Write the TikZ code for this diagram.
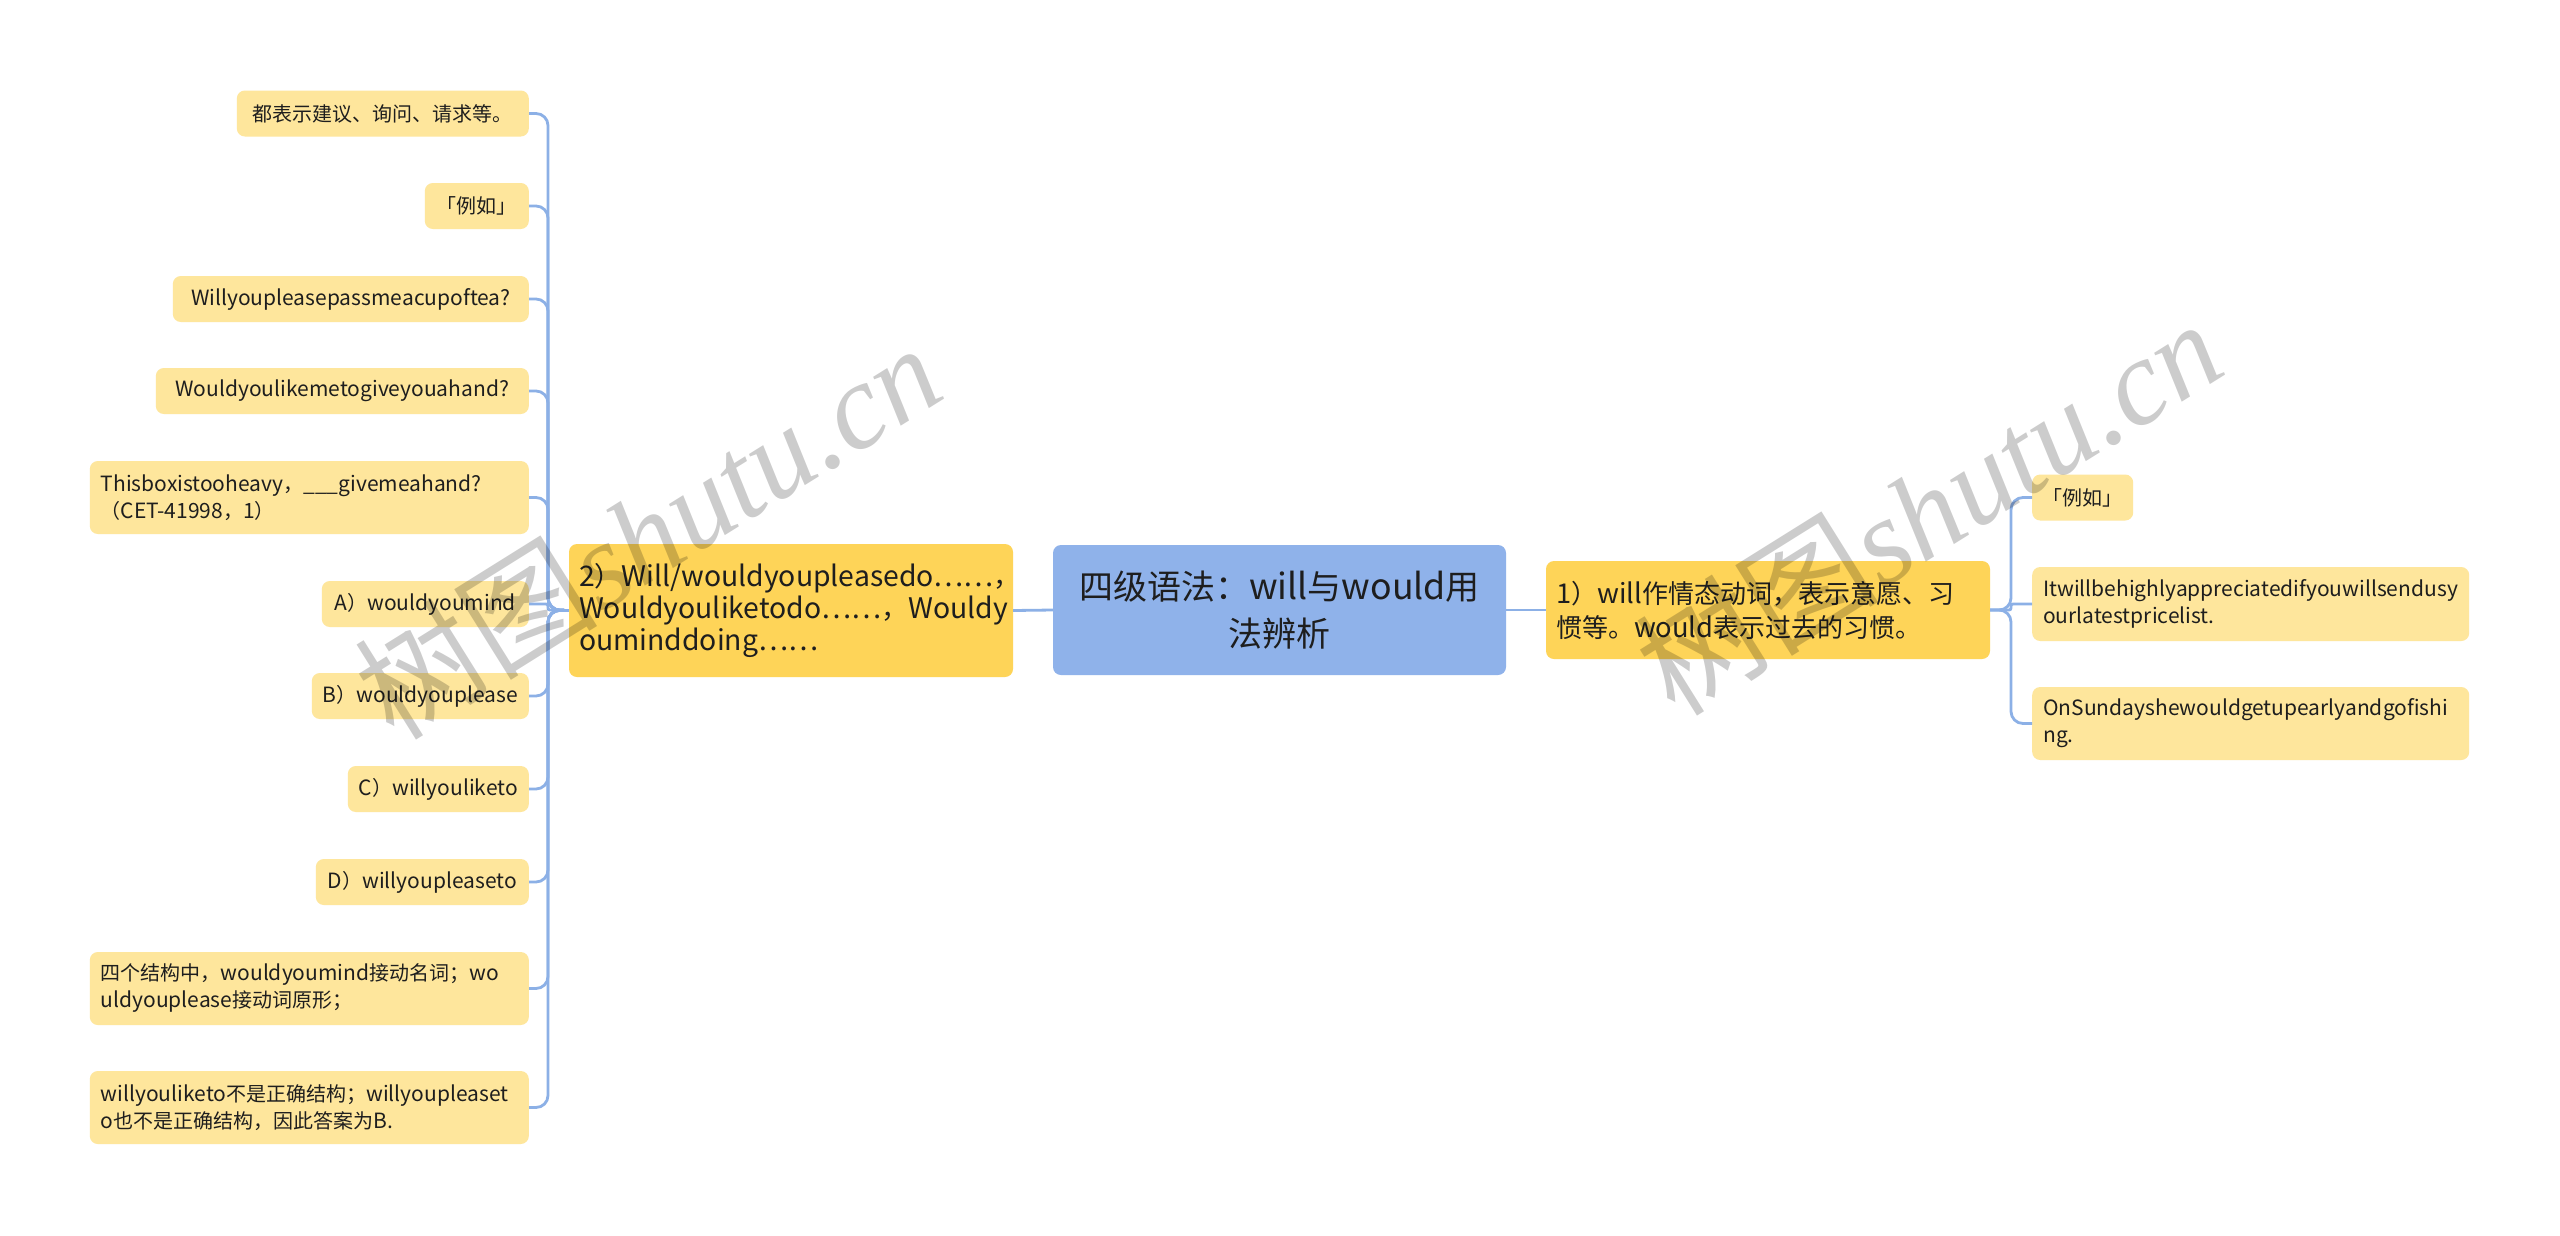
\documentclass[tikz,border=0pt]{standalone}
\usepackage{fontspec}
\setmainfont{Noto Sans CJK SC}[Scale=1.05]
\newfontfamily\cjkf{Noto Sans CJK SC}
\newfontfamily\latf{Noto Sans CJK SC}[Scale=1.05]
\newfontfamily\wmlat{Liberation Serif}
\newXeTeXintercharclass\mycjkclass
\makeatletter
\def\setcjkrange#1#2{\count@=#1\relax
  \loop\XeTeXcharclass\count@=\mycjkclass\relax
  \advance\count@ by 1\relax
  \ifnum\count@<#2\relax\repeat}
\setcjkrange{"3000}{"3040}
\setcjkrange{"4E00}{"A000}
\setcjkrange{"FF00}{"FFF0}
\makeatother
\XeTeXinterchartoks 0 \mycjkclass = {\cjkf}
\XeTeXinterchartoks 4095 \mycjkclass = {\cjkf}
\XeTeXinterchartoks \mycjkclass 0 = {\latf}
\XeTeXinterchartoks 4095 0 = {\latf}
\XeTeXinterchartokenstate=1
\hyphenpenalty=10000
\definecolor{rootc}{HTML}{8FB2EA}
\definecolor{mainc}{HTML}{FED458}
\definecolor{leafc}{HTML}{FEE69C}
\definecolor{linec}{HTML}{8CB0E6}
\definecolor{txt}{HTML}{1E1E1E}
\tikzset{
  leaf/.style={fill=leafc, rounded corners=8pt, inner sep=0pt, text=txt,
    font=\fontsize{20}{27}\selectfont, minimum height=46pt},
  mleaf/.style={leaf, align=left, inner xsep=11pt, minimum height=73pt},
  mainbox/.style={fill=mainc, rounded corners=8pt, inner xsep=10pt, inner ysep=0pt, text=txt,
    align=left},
  rootbox/.style={fill=rootc, rounded corners=8pt, inner sep=0pt, text=txt,
    font=\fontsize{34}{47}\selectfont, align=center, minimum width=453pt, minimum height=130pt},
  conn/.style={draw=linec, line width=2.8pt, rounded corners=12pt},
  nearconn/.style={draw=linec, line width=2.8pt, rounded corners=2pt},
  wmark/.style={text=black, opacity=0.2, rotate=32,
    font={\XeTeXinterchartokenstate=0 \fontsize{122}{122}\selectfont}}
}
\begin{document}
\begin{tikzpicture}[x=1pt, y=-1pt]
\fill[white] (0,0) rectangle (2560,1235);
\useasboundingbox (0,0) rectangle (2560,1235);
% central nodes
\node[rootbox] (root) at (1279.5,610) {四级语法：will与would用\\法辨析};
\node[mainbox, font=\fontsize{27}{32}\selectfont, text width=424pt, minimum height=133pt] (n2) at (791,610.5)
  {2）Will/wouldyoupleasedo……，\\Wouldyouliketodo……，Wouldy\\ouminddoing……};
\node[mainbox, font=\fontsize{26}{34}\selectfont, text width=424pt, minimum height=98pt] (n1) at (1768,610)
  {1）will作情态动词，表示意愿、习\\惯等。would表示过去的习惯。};
% left leaves
\node[leaf, anchor=east, minimum width=292pt] (L1) at (529,113.5) {都表示建议、询问、请求等。};
\node[leaf, anchor=east, minimum width=104pt] (L2) at (529,206) {「例如」};
\node[leaf, anchor=east, minimum width=356pt] (L3) at (529,299) {Willyoupleasepassmeacupoftea?};
\node[leaf, anchor=east, minimum width=373pt] (L4) at (529,391) {Wouldyoulikemetogiveyouahand?};
\node[mleaf, anchor=east, text width=417pt] (L5) at (529,497.5)
  {Thisboxistooheavy，\_\_\_givemeahand?\\（CET-41998，1）};
\node[leaf, anchor=east, minimum width=207pt] (L6) at (529,604) {A）wouldyoumind};
\node[leaf, anchor=east, minimum width=217pt] (L7) at (529,696) {B）wouldyouplease};
\node[leaf, anchor=east, minimum width=181pt] (L8) at (529,789) {C）willyouliketo};
\node[leaf, anchor=east, minimum width=213pt] (L9) at (529,882) {D）willyoupleaseto};
\node[mleaf, anchor=east, text width=417pt] (L10) at (529,988.5)
  {四个结构中，wouldyoumind接动名词；wo\\uldyouplease接动词原形；};
\node[mleaf, anchor=east, text width=417pt] (L11) at (529,1107.5)
  {willyouliketo不是正确结构；willyoupleaset\\o也不是正确结构，因此答案为B.};
% right leaves
\node[leaf, anchor=west, minimum width=101pt] (R1) at (2032,497.5) {「例如」};
\node[mleaf, anchor=west, text width=415pt, minimum height=74pt] (R2) at (2032,604)
  {Itwillbehighlyappreciatedifyouwillsendusy\\ourlatestpricelist.};
\node[mleaf, anchor=west, text width=415pt] (R3) at (2032,723.5)
  {OnSundayshewouldgetupearlyandgofishi\\ng.};
% buses
\coordinate (lbus) at (548,610);
\coordinate (rbus) at (2011,610);
% connectors
\draw[conn] (root.east) -- (n1.west);
\draw[conn] (root.west) -- (n2.east);
\foreach \l in {L1,L2,L3,L4,L5,L7,L8,L9,L10,L11}
  \draw[conn] (n2.west) -- (lbus) |- (\l.east);
\draw[nearconn] (n2.west) -- (lbus) |- (L6.east);
\foreach \r in {R1,R3}
  \draw[conn] (n1.east) -- (rbus) |- (\r.west);
\draw[nearconn] (n1.east) -- (rbus) |- (R2.west);
% watermarks
\node[wmark] (wm1) at (647,530) {{\cjkf 树图}{\wmlat\itshape shutu.cn}};
\node[wmark] (wm2) at (1928,506) {{\cjkf 树图}{\wmlat\itshape shutu.cn}};
\end{tikzpicture}
\end{document}
